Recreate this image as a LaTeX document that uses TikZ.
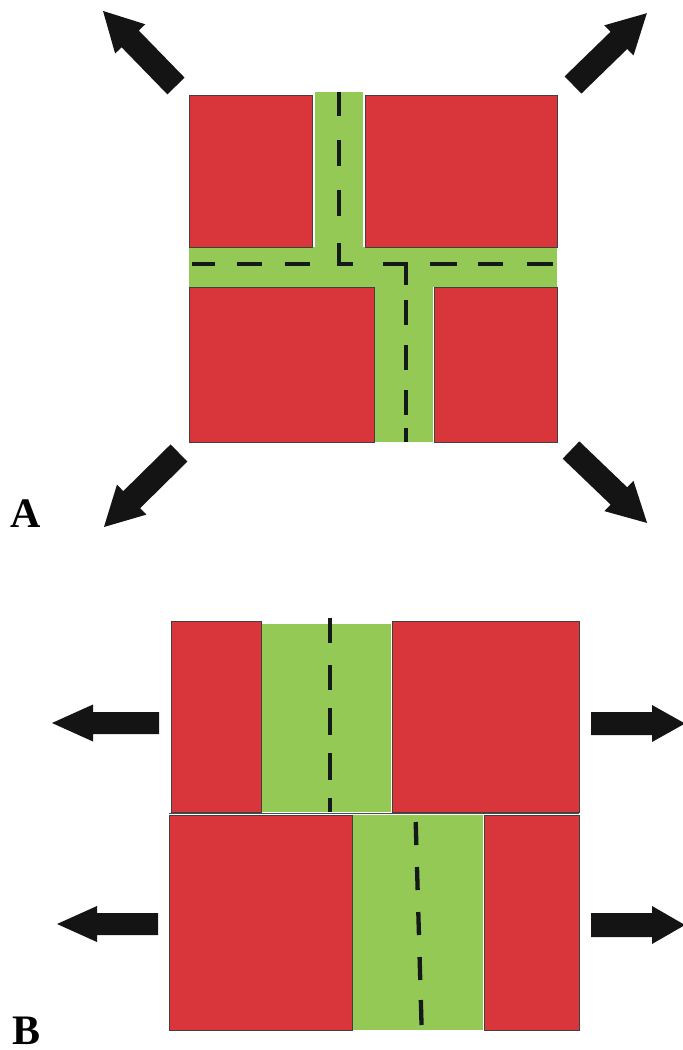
\documentclass[tikz,border=0pt]{standalone}
\usepackage{fontspec}
\newfontfamily\labelfont{Liberation Serif}
\definecolor{boxred}{RGB}{217,54,60}
\definecolor{stripgreen}{RGB}{147,201,84}
\definecolor{dashblack}{RGB}{20,25,25}
\newcommand\blockarr[7]{% tail x, tail y, angle, length, head length, shaft half width, head half width
  \begin{scope}[shift={(#1,#2)}, rotate=#3]
    \fill[blockarrow] (0,-#6) -- (#4-#5,-#6) -- (#4-#5,-#7) -- (#4,0) -- (#4-#5,#7) -- (#4-#5,#6) -- (0,#6) -- cycle;
  \end{scope}}
\begin{document}
\begin{tikzpicture}[x=1pt,y=-1pt,
  redbox/.style={fill=boxred, draw=black!75, line width=0.9pt},
  greenstrip/.style={fill=stripgreen},
  dashseg/.style={draw=dashblack, line width=4.3pt},
  blockarrow/.style={fill=black!92},
  panellabel/.style={anchor=base west, inner sep=0pt, font=\labelfont\bfseries\fontsize{42}{42}\selectfont}]
\useasboundingbox (0,0) rectangle (683,1050);
\clip (0,0) rectangle (683,1050);

% ---------- Panel A ----------
\fill[greenstrip] (315,92) rectangle (363,250);
\fill[greenstrip] (189,247) rectangle (557,287);
\fill[greenstrip] (374,285) rectangle (433,442);
\draw[redbox] (189,95) rectangle (312,247);
\draw[redbox] (365,95) rectangle (557,247);
\draw[redbox] (189,287) rectangle (374,442);
\draw[redbox] (434,287) rectangle (557,442);

\foreach \a/\b in {92/116,140/166,190/216}
  \draw[dashseg] (339,\a) -- (339,\b);
\draw[dashseg] (339,243) -- (339,264) -- (353,264);
\foreach \a/\b in {192/215,237/262,285/310,430/457,478/503,527/553}
  \draw[dashseg] (\a,264) -- (\b,264);
\draw[dashseg] (383,264) -- (406,264) -- (406,285);
\foreach \a/\b in {300/325,345/370,390/415,428/442}
  \draw[dashseg] (406,\a) -- (406,\b);

\blockarr{176}{86}{134.2}{104.7}{39}{12}{21}
\blockarr{573}{85}{44.2}{103}{39}{12}{21}
\blockarr{179}{453}{224.6}{105.4}{39}{12}{21}
\blockarr{571}{450}{-43.8}{105.4}{39}{12}{21}

\node[panellabel] (labA) at (10,527) {A};

% ---------- Panel B ----------
\fill[greenstrip] (261,624) rectangle (391,812);
\fill[greenstrip] (352,815) rectangle (483,1030);
\draw[redbox] (171,621) rectangle (261,812);
\draw[redbox] (392,621) rectangle (579,812);
\draw[redbox] (169,815) rectangle (352,1030);
\draw[redbox] (484,815) rectangle (579,1030);
\draw[draw=black!70, line width=1pt] (169,813.5) -- (579,813.5);

\foreach \a/\b in {618/643,665/690,708/735,753/780,798/812}
  \draw[dashseg] (330,\a) -- (330,\b);
\foreach \a/\b in {822/845,867/890,912/935,957/980,1000/1025}
  \draw[dashseg] ({415.7+(\a-822)*0.0288},\a) -- ({415.7+(\b-822)*0.0288},\b);

\blockarr{159}{723}{180}{107}{41}{11}{18.5}
\blockarr{158}{924}{180}{101}{40}{11}{18}
\blockarr{591}{723.5}{0}{94}{33}{11.5}{18.5}
\blockarr{591}{925}{0}{94}{33}{12}{19}

\node[panellabel] (labB) at (12,1044) {B};
\end{tikzpicture}
\end{document}
